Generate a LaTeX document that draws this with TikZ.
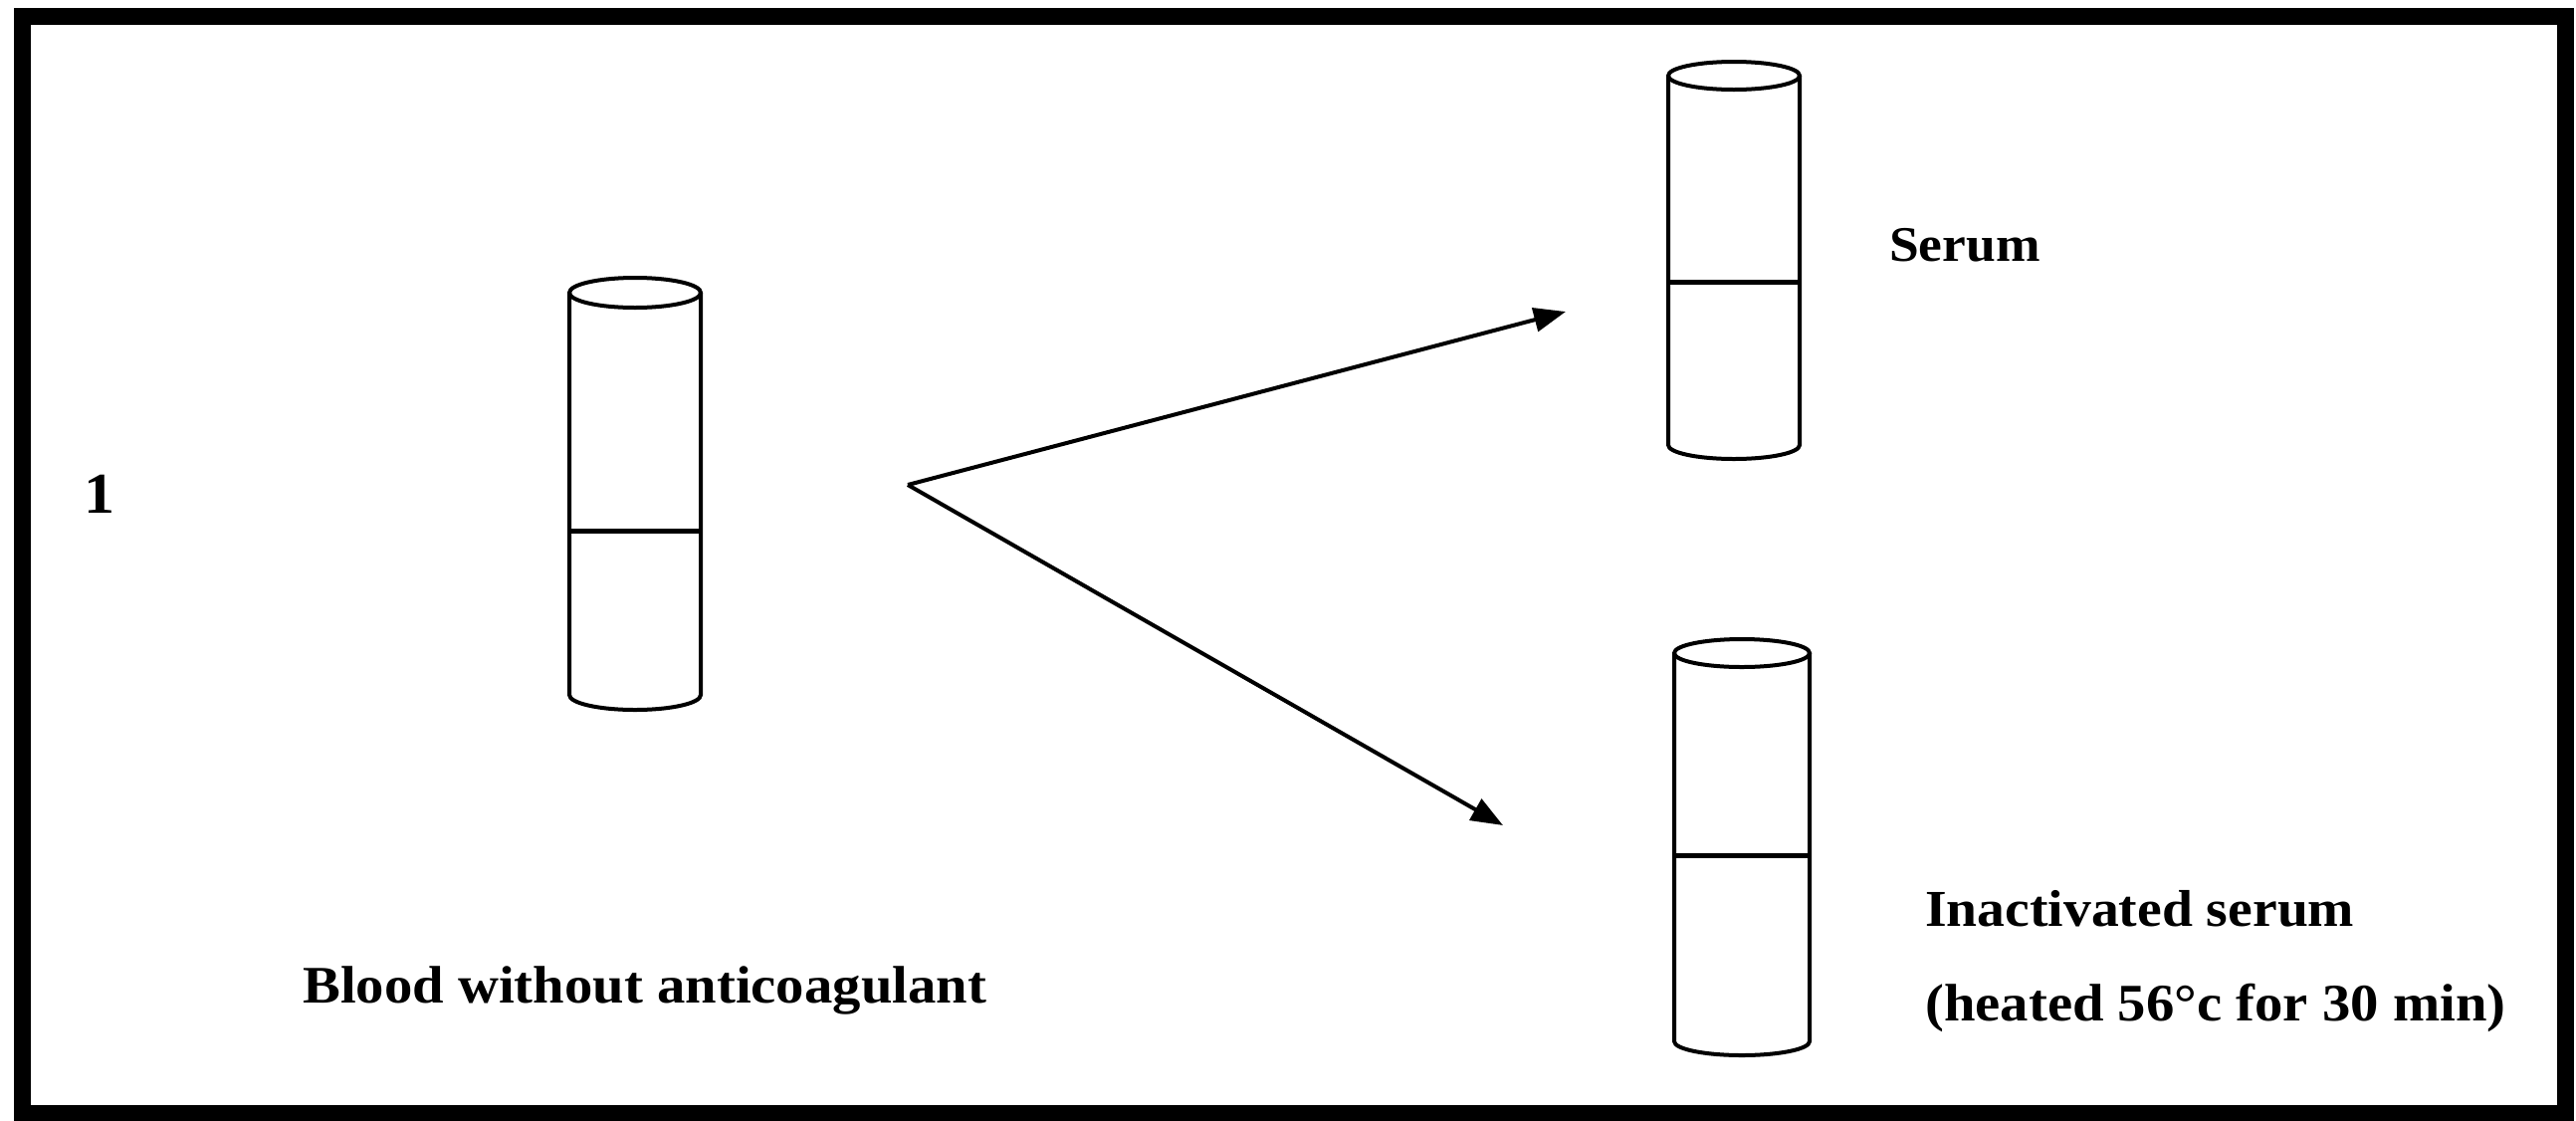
\documentclass[tikz,border=0pt]{standalone}
\usepackage{fontspec}
\setmainfont{Liberation Serif}[FakeStretch=1.07]
\usetikzlibrary{arrows.meta}
\tikzset{
  frameline/.style={line width=17pt, line join=miter},
  tubeline/.style={line width=4pt},
  levelline/.style={line width=5pt},
  flowarrow/.style={line width=4pt, -{Triangle[length=32pt,width=24pt]}},
  label/.style={inner sep=0pt, anchor=base west, font=\bfseries}
}
\begin{document}
\begin{tikzpicture}[x=1pt,y=-1pt]
\useasboundingbox (0,0) rectangle (2588,1125);
% frame
\draw[frameline] (22,16) rectangle (2577,1118);

% left tube (blood)
\draw[tubeline] (638,294) ellipse [x radius=66, y radius=15];
\draw[tubeline] (572,294) -- (572,698) arc[start angle=180, end angle=0, x radius=66, y radius=15] -- (704,294);
\draw[levelline] (572,533) -- (704,533);

% serum tube
\draw[tubeline] (1742,76) ellipse [x radius=66, y radius=14];
\draw[tubeline] (1676,76) -- (1676,447) arc[start angle=180, end angle=0, x radius=66, y radius=14] -- (1808,76);
\draw[levelline] (1676,283) -- (1808,283);

% inactivated serum tube
\draw[tubeline] (1750,656) ellipse [x radius=68, y radius=14];
\draw[tubeline] (1682,656) -- (1682,1046) arc[start angle=180, end angle=0, x radius=68, y radius=14] -- (1818,656);
\draw[levelline] (1682,859) -- (1818,859);

% arrows
\coordinate (J) at (912,487);
\coordinate (toSerum) at (1573,313);
\coordinate (toInact) at (1510,829);
\draw[flowarrow] (J) -- (toSerum);
\draw[flowarrow] (J) -- (toInact);

% texts
\node[label, font=\bfseries\fontsize{58}{68}\selectfont] (num) at (84,515) {1};
\node[label, font=\bfseries\fontsize{53}{63}\selectfont] (blood) at (304,1007) {Blood without anticoagulant};
\node[label, font=\bfseries\fontsize{50}{60}\selectfont] (serum) at (1898,262) {Serum};
\node[label, font=\bfseries\fontsize{52}{62}\selectfont] (inact) at (1934,930) {Inactivated serum};
\node[label, font=\bfseries\fontsize{53}{63}\selectfont] (heat) at (1934,1025) {(heated 56°c for 30 min)};
\end{tikzpicture}
\end{document}
